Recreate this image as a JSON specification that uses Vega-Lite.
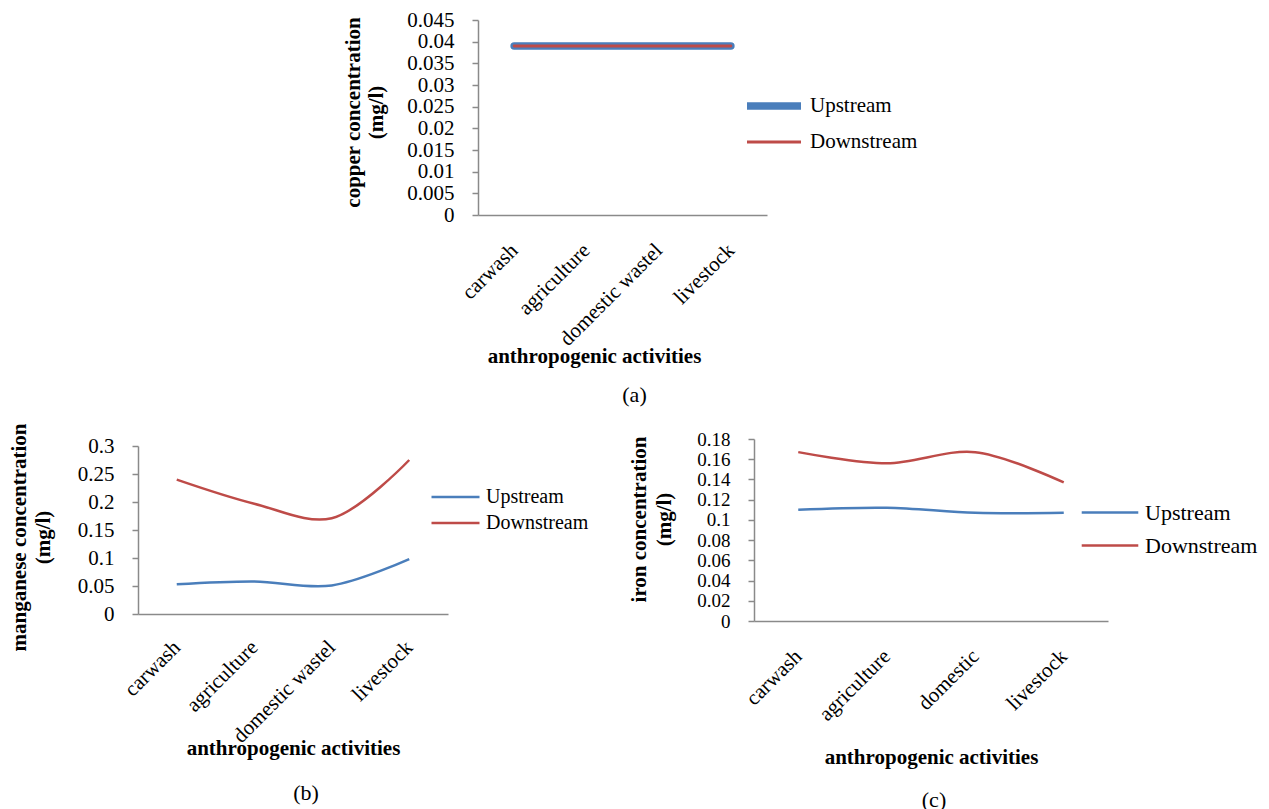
{
  "$schema": "https://vega.github.io/schema/vega-lite/v6.json",
  "background": "white",
  "padding": {"left": 8, "top": 9, "right": 5, "bottom": 5},
  "center": true,
  "spacing": 16,
  "config": {
    "font": "Liberation Serif",
    "view": {"stroke": null},
    "axis": {
      "grid": false,
      "domainColor": "#8a8a8a",
      "domainWidth": 1.5,
      "tickColor": "#8a8a8a",
      "tickWidth": 1.5,
      "tickSize": 6,
      "labelColor": "black",
      "titleColor": "black",
      "labelFont": "Liberation Serif",
      "titleFont": "Liberation Serif",
      "labelFontSize": 21,
      "titleFontSize": 21,
      "titleFontWeight": "bold",
      "labelOverlap": false
    },
    "legend": {
      "labelFont": "Liberation Serif",
      "labelColor": "black",
      "symbolType": "stroke",
      "labelOffset": 5,
      "rowPadding": 0
    },
    "title": {"font": "Liberation Serif", "fontSize": 22, "fontWeight": "normal", "color": "black"}
  },
  "datasets": {
    "copper": [
      {"activity": "carwash", "site": "Upstream", "value": 0.039},
      {"activity": "agriculture", "site": "Upstream", "value": 0.039},
      {"activity": "domestic wastel", "site": "Upstream", "value": 0.039},
      {"activity": "livestock", "site": "Upstream", "value": 0.039},
      {"activity": "carwash", "site": "Downstream", "value": 0.039},
      {"activity": "agriculture", "site": "Downstream", "value": 0.039},
      {"activity": "domestic wastel", "site": "Downstream", "value": 0.039},
      {"activity": "livestock", "site": "Downstream", "value": 0.039}
    ],
    "manganese": [
      {"activity": "carwash", "site": "Upstream", "value": 0.053},
      {"activity": "agriculture", "site": "Upstream", "value": 0.058},
      {"activity": "domestic wastel", "site": "Upstream", "value": 0.051},
      {"activity": "livestock", "site": "Upstream", "value": 0.098},
      {"activity": "carwash", "site": "Downstream", "value": 0.24},
      {"activity": "agriculture", "site": "Downstream", "value": 0.197},
      {"activity": "domestic wastel", "site": "Downstream", "value": 0.171},
      {"activity": "livestock", "site": "Downstream", "value": 0.275}
    ],
    "iron": [
      {"activity": "carwash", "site": "Upstream", "value": 0.110},
      {"activity": "agriculture", "site": "Upstream", "value": 0.112},
      {"activity": "domestic", "site": "Upstream", "value": 0.107},
      {"activity": "livestock", "site": "Upstream", "value": 0.107},
      {"activity": "carwash", "site": "Downstream", "value": 0.167},
      {"activity": "agriculture", "site": "Downstream", "value": 0.156},
      {"activity": "domestic", "site": "Downstream", "value": 0.167},
      {"activity": "livestock", "site": "Downstream", "value": 0.137}
    ]
  },
  "vconcat": [
    {
      "width": 289,
      "height": 195,
      "data": {"name": "copper"},
      "title": {"text": "(a)", "orient": "bottom", "anchor": "middle", "dx": 12, "offset": 19},
      "mark": {"type": "line", "strokeCap": "round", "strokeJoin": "round"},
      "encoding": {
        "x": {
          "field": "activity", "type": "nominal",
          "sort": ["carwash", "agriculture", "domestic wastel", "livestock"],
          "scale": {"type": "point", "padding": 0.5},
          "axis": {"title": "anthropogenic activities", "labelAngle": -45, "labelAlign": "right", "labelBaseline": "middle", "labelPadding": 32, "ticks": false, "titleX": 116, "titleY": 130, "titleBaseline": "top"}
        },
        "y": {
          "field": "value", "type": "quantitative",
          "scale": {"domain": [0, 0.045], "nice": false, "zero": true},
          "axis": {"title": ["copper concentration", "(mg/l)"], "values": [0, 0.005, 0.01, 0.015, 0.02, 0.025, 0.03, 0.035, 0.04, 0.045], "format": ".3~f", "labelFontSize": 21, "labelPadding": 18, "titleX": -115, "titleY": 92, "titleBaseline": "bottom", "titleLineHeight": 23}
        },
        "color": {
          "field": "site", "type": "nominal",
          "scale": {"domain": ["Upstream", "Downstream"], "range": ["#4A7EBB", "#BE4B48"]},
          "legend": {"title": null, "orient": "none", "legendX": 265, "legendY": 68, "labelFontSize": 21, "symbolSize": 2916, "clipHeight": 36}
        },
        "strokeWidth": {
          "field": "site", "type": "nominal",
          "scale": {"domain": ["Upstream", "Downstream"], "range": [7.5, 2.8]},
          "legend": {"title": null, "orient": "none", "legendX": 265, "legendY": 68, "labelFontSize": 21, "symbolSize": 2916, "clipHeight": 36}
        }
      }
    },
    {
      "hconcat": [
        {
          "width": 310,
          "height": 168,
          "data": {"name": "manganese"},
          "title": {"text": "(b)", "orient": "bottom", "anchor": "middle", "dx": 13, "offset": 25},
          "mark": {"type": "line", "interpolate": "catmull-rom", "strokeWidth": 2.5},
          "encoding": {
            "x": {
              "field": "activity", "type": "nominal",
              "sort": ["carwash", "agriculture", "domestic wastel", "livestock"],
              "scale": {"type": "point", "padding": 0.5},
              "axis": {"title": "anthropogenic activities", "labelAngle": -45, "labelAlign": "right", "labelBaseline": "middle", "labelPadding": 30, "ticks": false, "titleY": 123, "titleBaseline": "top"}
            },
            "y": {
              "field": "value", "type": "quantitative",
              "scale": {"domain": [0, 0.3], "nice": false},
              "axis": {"title": ["manganese concentration", "(mg/l)"], "values": [0, 0.05, 0.1, 0.15, 0.2, 0.25, 0.3], "format": ".2~f", "labelPadding": 18, "titleX": -109, "titleY": 91, "titleBaseline": "bottom", "titleLineHeight": 24}
            },
            "color": {
              "field": "site", "type": "nominal",
              "scale": {"domain": ["Upstream", "Downstream"], "range": ["#4A7EBB", "#BE4B48"]},
              "legend": {"title": null, "orient": "none", "legendX": 292, "legendY": 38, "labelFontSize": 20, "symbolSize": 2304, "symbolStrokeWidth": 2.5, "clipHeight": 26}
            }
          }
        },
        {
          "width": 354,
          "height": 182,
          "data": {"name": "iron"},
          "title": {"text": "(c)", "orient": "bottom", "anchor": "middle", "dx": 3, "offset": 23},
          "mark": {"type": "line", "interpolate": "catmull-rom", "strokeWidth": 2.5},
          "encoding": {
            "x": {
              "field": "activity", "type": "nominal",
              "sort": ["carwash", "agriculture", "domestic", "livestock"],
              "scale": {"type": "point", "padding": 0.5},
              "axis": {"title": "anthropogenic activities", "labelAngle": -45, "labelAlign": "right", "labelBaseline": "middle", "labelPadding": 32, "ticks": false, "titleY": 125, "titleBaseline": "top"}
            },
            "y": {
              "field": "value", "type": "quantitative",
              "scale": {"domain": [0, 0.18], "nice": false},
              "axis": {"title": ["iron concentration", "(mg/l)"], "values": [0, 0.02, 0.04, 0.06, 0.08, 0.1, 0.12, 0.14, 0.16, 0.18], "format": ".2~f", "labelFontSize": 19, "labelPadding": 18, "titleX": -105, "titleY": 80, "titleBaseline": "bottom", "titleLineHeight": 25}
            },
            "color": {
              "field": "site", "type": "nominal",
              "scale": {"domain": ["Upstream", "Downstream"], "range": ["#4A7EBB", "#BE4B48"]},
              "legend": {"title": null, "orient": "none", "legendX": 326, "legendY": 57, "labelFontSize": 22, "symbolSize": 3200, "symbolStrokeWidth": 2.5, "clipHeight": 33}
            }
          }
        }
      ],
      "spacing": 38,
      "center": true,
      "resolve": {"scale": {"color": "independent"}}
    }
  ],
  "resolve": {"scale": {"color": "independent", "strokeWidth": "independent"}}
}
